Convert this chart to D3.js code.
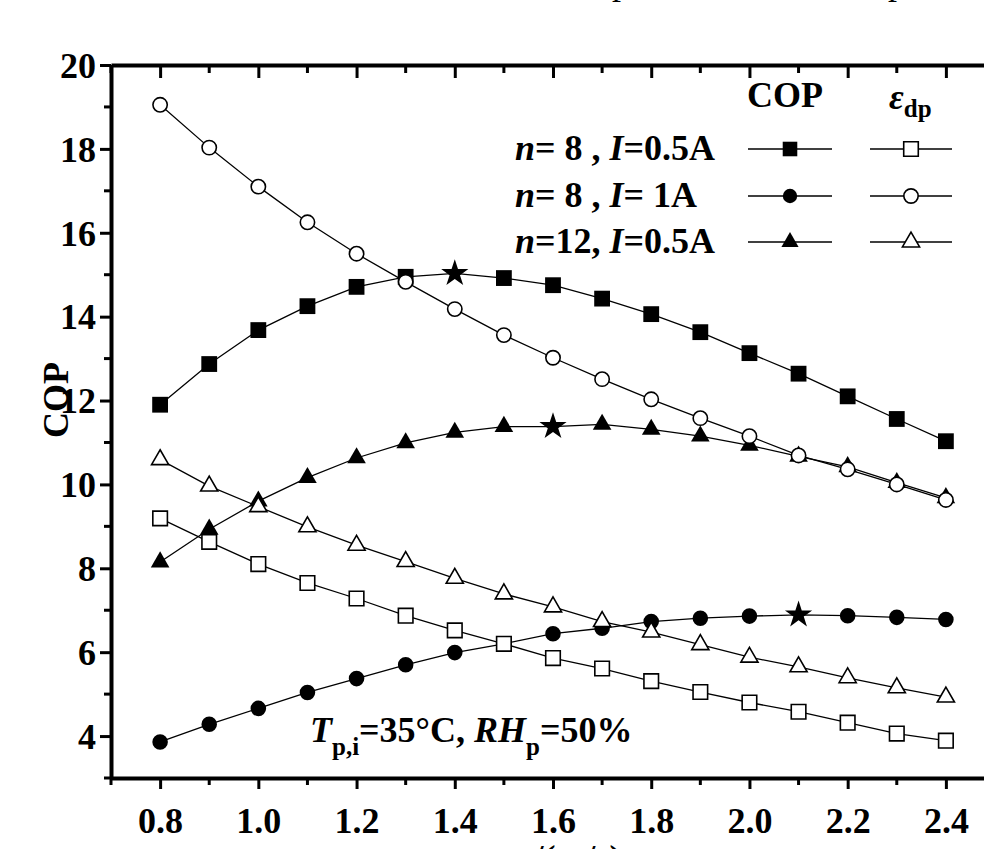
<!DOCTYPE html>
<html>
  <head>
    <title>COP and dew point effectiveness</title>
    <script src="https://d3js.org/d3.v7.min.js"></script>
    <style>
      body { margin: 0; background: #fff; }
      text { font-family: "Liberation Serif", "Times New Roman", serif; font-weight: bold; }
    </style>
  </head>

  <body>
    <svg id="plot" width="984" height="849"></svg>

    <script>
      // air velocity (m/s)
      var xVals = [0.8, 0.9, 1.0, 1.1, 1.2, 1.3, 1.4, 1.5, 1.6, 1.7, 1.8, 1.9, 2.0, 2.1, 2.2, 2.3, 2.4];

      // COP
      var copN8I05 = [11.90, 12.87, 13.68, 14.25, 14.71, 14.95, 15.03, 14.92, 14.75, 14.43, 14.06, 13.63, 13.13, 12.64, 12.10, 11.56, 11.03];
      var copN8I1 = [3.86, 4.28, 4.66, 5.04, 5.37, 5.70, 5.99, 6.20, 6.44, 6.57, 6.73, 6.81, 6.86, 6.89, 6.87, 6.83, 6.78];
      var copN12I05 = [8.15, 8.93, 9.60, 10.16, 10.63, 10.99, 11.24, 11.38, 11.38, 11.43, 11.31, 11.15, 10.93, 10.67, 10.42, 10.04, 9.68];

      // dew point effectiveness
      var epsN8I05 = [9.19, 8.63, 8.10, 7.65, 7.28, 6.87, 6.52, 6.20, 5.86, 5.61, 5.31, 5.05, 4.80, 4.58, 4.32, 4.06, 3.89];
      var epsN8I1 = [19.05, 18.03, 17.10, 16.25, 15.50, 14.83, 14.18, 13.56, 13.02, 12.51, 12.03, 11.58, 11.15, 10.69, 10.36, 10.00, 9.63];
      var epsN12I05 = [10.59, 9.96, 9.47, 8.99, 8.55, 8.16, 7.76, 7.39, 7.08, 6.73, 6.48, 6.18, 5.88, 5.65, 5.39, 5.15, 4.93];

      // the optimum of each COP curve is drawn as a star
      var peakX = [1.4, 2.1, 1.6];

      var xMajor = [0.8, 1.0, 1.2, 1.4, 1.6, 1.8, 2.0, 2.2, 2.4];
      var xMinor = [0.7, 0.9, 1.1, 1.3, 1.5, 1.7, 1.9, 2.1, 2.3, 2.5];
      var yMajor = [4, 6, 8, 10, 12, 14, 16, 18, 20];
      var yMinor = [3, 5, 7, 9, 11, 13, 15, 17, 19];

      var legendRows = [
        ["n", "= 8 , ", "I", "=0.5A"],
        ["n", "= 8 , ", "I", "= 1A"],
        ["n", "=12, ", "I", "=0.5A"]
      ];
      var shapes = [d3.symbolSquare, d3.symbolCircle, d3.symbolTriangle];
      var sizes = [250, 190, 150];

      var svg = d3.select("#plot");
      var x = d3.scaleLinear().domain([0.7, 2.5]).range([111, 995]);
      var y = d3.scaleLinear().domain([3, 20]).range([778, 65]);

      var line = d3.line()
        .x(function (d, i) { return x(xVals[i]); })
        .y(function (d) { return y(d); });

      var copSeries = [copN8I05, copN8I1, copN12I05];
      var epsSeries = [epsN8I05, epsN8I1, epsN12I05];

      // lines
      copSeries.concat(epsSeries).forEach(function (s) {
        svg.append("path")
          .attr("d", line(s))
          .attr("fill", "none")
          .attr("stroke", "#000")
          .attr("stroke-width", 1.3);
      });

      // filled markers (COP)
      copSeries.forEach(function (s, k) {
        svg.append("g").selectAll("path")
          .data(s)
          .join("path")
          .attr("transform", function (d, i) { return "translate(" + x(xVals[i]) + "," + y(d) + ")"; })
          .attr("d", function (d, i) {
            if (Math.abs(xVals[i] - peakX[k]) < 1e-6) return d3.symbol(d3.symbolStar, 230)();
            return d3.symbol(shapes[k], sizes[k])();
          })
          .attr("fill", "#000");
      });

      // open markers (effectiveness)
      epsSeries.forEach(function (s, k) {
        svg.append("g").selectAll("path")
          .data(s)
          .join("path")
          .attr("transform", function (d, i) { return "translate(" + x(xVals[i]) + "," + y(d) + ")"; })
          .attr("d", d3.symbol(shapes[k], sizes[k] * 0.85))
          .attr("fill", "#fff")
          .attr("stroke", "#000")
          .attr("stroke-width", 1.6);
      });

      // axes
      var axB = svg.append("g").attr("transform", "translate(0,778)")
        .call(d3.axisBottom(x).tickValues(xMajor).tickSize(11).tickSizeOuter(0).tickPadding(18).tickFormat(d3.format(".1f")));
      axB.append("g").selectAll("line").data(xMinor).join("line")
        .attr("class", "minor")
        .attr("x1", x).attr("x2", x).attr("y1", 0).attr("y2", 7);

      var axT = svg.append("g").attr("transform", "translate(0,65)")
        .call(d3.axisTop(x).tickValues(xMajor).tickSize(-13).tickSizeOuter(0).tickFormat(""));
      axT.append("g").selectAll("line").data(xMinor).join("line")
        .attr("class", "minor")
        .attr("x1", x).attr("x2", x).attr("y1", 0).attr("y2", 8);

      var axL = svg.append("g").attr("transform", "translate(111,0)")
        .call(d3.axisLeft(y).tickValues(yMajor).tickSize(11).tickSizeOuter(0).tickPadding(4));
      axL.append("g").selectAll("line").data(yMinor).join("line")
        .attr("class", "minor")
        .attr("y1", y).attr("y2", y).attr("x1", 0).attr("x2", -7);

      svg.selectAll(".domain").attr("stroke", "#000").attr("stroke-width", 4);
      svg.selectAll(".tick line, line.minor").attr("stroke", "#000").attr("stroke-width", 3);
      svg.selectAll(".tick text")
        .attr("fill", "#000")
        .attr("font-size", 36)
        .attr("font-family", "'Liberation Serif', serif")
        .attr("font-weight", "bold");
      axL.selectAll(".tick text").attr("dy", "0.34em");

      // axis titles
      svg.append("text")
        .attr("transform", "translate(68,400) rotate(-90)")
        .attr("text-anchor", "middle")
        .style("font-size", "36px")
        .text("COP");

      var xt = svg.append("text").attr("x", 500).attr("y", 870).style("font-size", "36px");
      xt.append("tspan").style("font-style", "italic").text("u");
      xt.append("tspan").attr("dy", 8).style("font-size", "24px").text("p");
      xt.append("tspan").attr("dy", -8).text("/(m/s)");

      // bits of the caption above the figure
      svg.append("text").attr("x", 612).attr("y", -6).style("font-size", "36px").style("font-weight", "normal").text("p");
      svg.append("text").attr("x", 888).attr("y", -6).style("font-size", "36px").style("font-weight", "normal").text("p,");

      // legend
      svg.append("text").attr("x", 747).attr("y", 107).style("font-size", "36px").text("COP");
      var eh = svg.append("text").attr("x", 889).attr("y", 109).style("font-size", "36px");
      eh.append("tspan").style("font-style", "italic").text("ε");
      eh.append("tspan").attr("dy", 8).style("font-size", "25px").text("dp");

      var rowY = [160, 207, 253];
      legendRows.forEach(function (parts, r) {
        var t = svg.append("text").attr("x", 515).attr("y", rowY[r]).style("font-size", "36px");
        parts.forEach(function (p, i) {
          t.append("tspan").style("font-style", i % 2 === 0 ? "italic" : "normal").text(p);
        });
        var my = rowY[r] - 11;
        [[748, 832, 790, true], [870, 952, 911, false]].forEach(function (c) {
          svg.append("line")
            .attr("x1", c[0]).attr("x2", c[1]).attr("y1", my).attr("y2", my)
            .attr("stroke", "#000").attr("stroke-width", 1.5);
          svg.append("path")
            .attr("transform", "translate(" + c[2] + "," + my + ")")
            .attr("d", d3.symbol(shapes[r], sizes[r] * 0.85))
            .attr("fill", c[3] ? "#000" : "#fff")
            .attr("stroke", "#000")
            .attr("stroke-width", c[3] ? 0 : 1.6);
        });
      });

      // conditions
      var note = svg.append("text").attr("x", 310).attr("y", 742).style("font-size", "36px");
      note.append("tspan").style("font-style", "italic").text("T");
      note.append("tspan").attr("dy", 13).style("font-size", "25px").text("p,i");
      note.append("tspan").attr("dy", -13).text("=35°C, ");
      note.append("tspan").style("font-style", "italic").text("RH");
      note.append("tspan").attr("dy", 13).style("font-size", "25px").text("p");
      note.append("tspan").attr("dy", -13).text("=50%");
    </script>
  </body>
</html>
